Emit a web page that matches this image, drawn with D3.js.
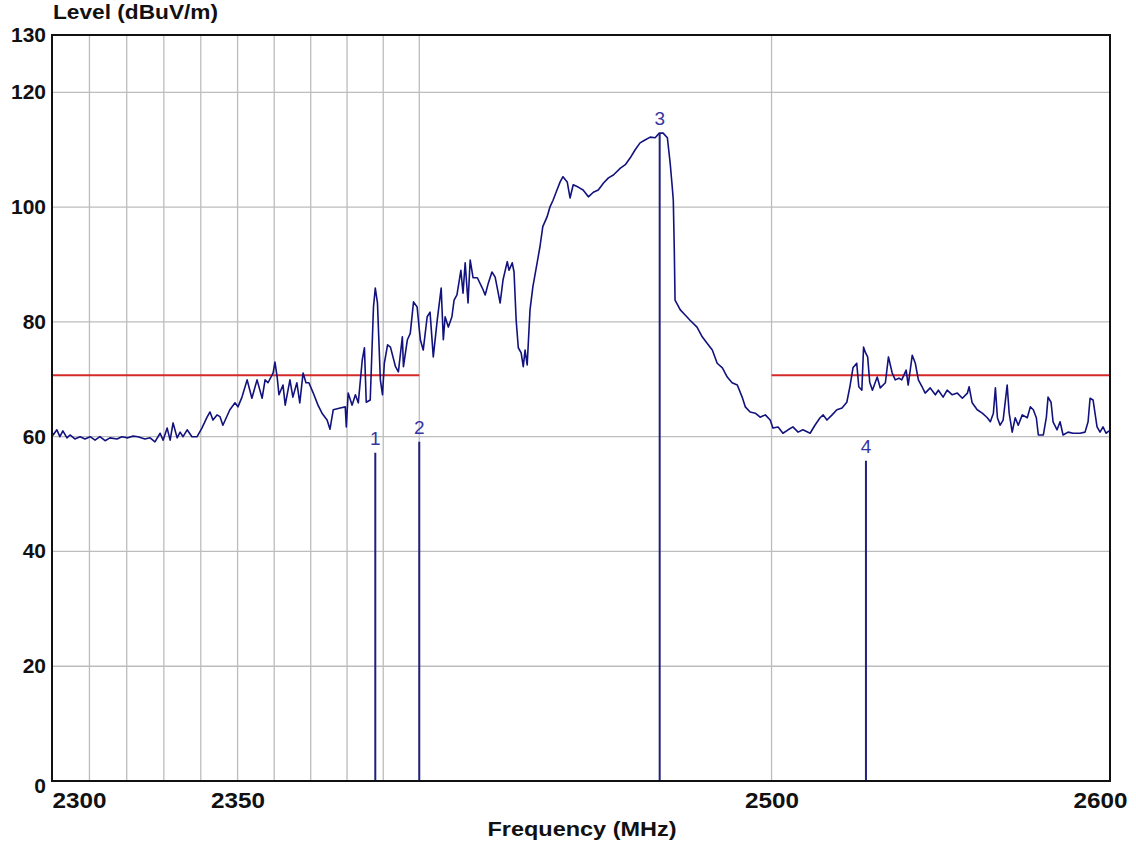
<!DOCTYPE html>
<html>
<head>
<meta charset="utf-8">
<script src="https://cdn.jsdelivr.net/npm/d3@7"></script>
<style>
  body { margin: 0; background: #fff; }
  text { font-family: Arial, "Liberation Sans", sans-serif; }
</style>
</head>
<body>
<div id="chart"></div>
<script>
// 1: DATA
const yTickValues = [0, 20, 40, 60, 80, 100, 120, 130];
const yGridValues = [20, 40, 60, 80, 100, 120];
const xTickValues = [2300, 2350, 2500, 2600];
const xGridValues = [2310, 2320, 2330, 2340, 2350, 2360, 2370, 2380, 2390, 2400, 2500];

const limitLevel = 70.7;
const limitRanges = [[2300, 2400], [2500, 2600]];

const markerNames = ["1", "2", "3", "4"];
const markerMHz = [2387.8, 2400, 2467.8, 2527.5];
const markerLevel = [57.2, 59.1, 112.9, 55.8];

// [frequency MHz, level dBuV/m]
const trace = [
  [2300.0, 60.8], [2300.3, 60.3], [2301.3, 61.2], [2302.1, 60.0], [2302.9, 61.0],
  [2304.0, 59.8], [2304.8, 60.3], [2306.1, 59.6], [2307.5, 60.0], [2308.8, 59.6],
  [2310.2, 60.0], [2311.5, 59.4], [2312.8, 60.0], [2314.2, 59.3], [2315.5, 59.8],
  [2317.4, 59.6], [2318.7, 60.0], [2320.3, 59.8], [2321.7, 60.1], [2323.0, 60.0],
  [2324.9, 59.6], [2326.3, 59.8], [2327.6, 59.1], [2329.0, 60.6], [2329.8, 59.4],
  [2330.9, 61.5], [2331.7, 59.4], [2332.5, 62.4], [2333.6, 59.8], [2334.4, 60.8],
  [2335.2, 60.0], [2336.3, 61.2], [2337.6, 60.0], [2339.0, 60.0], [2340.3, 61.5],
  [2341.7, 63.4], [2342.5, 64.3], [2343.3, 62.9], [2344.4, 63.8], [2345.2, 63.5],
  [2346.0, 62.0], [2347.9, 64.7], [2349.3, 65.9], [2350.1, 65.2], [2351.2, 66.9],
  [2352.6, 69.9], [2353.9, 66.7], [2355.3, 69.9], [2356.7, 66.7], [2357.5, 69.9],
  [2358.3, 69.4], [2359.7, 71.1], [2360.2, 73.0], [2360.8, 70.4], [2361.3, 67.3],
  [2362.4, 69.0], [2363.0, 65.5], [2364.3, 69.9], [2365.1, 66.9], [2366.2, 69.4],
  [2367.0, 65.9], [2367.9, 71.1], [2368.7, 69.4], [2369.5, 69.4], [2370.7, 67.6],
  [2372.0, 65.5], [2373.1, 64.1], [2374.5, 62.9], [2375.3, 61.3], [2376.2, 64.7],
  [2378.1, 65.0], [2379.5, 65.2], [2379.8, 61.7], [2380.3, 67.6], [2381.4, 65.5],
  [2382.3, 67.3], [2383.1, 65.9], [2384.2, 73.4], [2384.8, 75.5], [2385.3, 66.0],
  [2386.4, 66.4], [2387.3, 82.6], [2387.8, 85.9], [2388.4, 83.3], [2389.2, 69.9],
  [2389.8, 67.3], [2390.3, 72.8], [2391.2, 76.0], [2392.0, 75.6], [2393.4, 72.2],
  [2394.2, 71.3], [2395.3, 77.4], [2395.6, 72.2], [2396.7, 76.9], [2397.5, 78.0],
  [2398.4, 83.5], [2399.4, 82.6], [2400.3, 76.9], [2401.1, 75.1], [2402.2, 80.9],
  [2403.0, 81.7], [2403.9, 73.9], [2405.0, 80.3], [2406.1, 85.9], [2406.7, 76.9],
  [2407.2, 80.9], [2408.1, 79.1], [2409.1, 80.9], [2409.7, 83.8], [2410.5, 84.7],
  [2411.6, 89.0], [2412.2, 85.0], [2412.8, 90.3], [2413.6, 83.3], [2414.2, 90.8],
  [2415.0, 87.7], [2416.2, 87.7], [2417.6, 85.9], [2418.4, 84.7], [2419.3, 86.8],
  [2420.3, 88.7], [2421.2, 87.8], [2421.8, 85.9], [2422.6, 83.3], [2423.4, 87.3],
  [2424.6, 90.5], [2425.1, 89.0], [2426.0, 90.3], [2426.5, 88.7], [2427.1, 80.3],
  [2427.7, 75.5], [2428.5, 74.6], [2429.1, 72.2], [2429.6, 75.1], [2430.2, 72.5],
  [2431.0, 82.1], [2431.8, 86.1], [2433.0, 90.3], [2433.8, 93.1], [2434.6, 96.6],
  [2435.8, 98.3], [2436.6, 100.0], [2437.5, 101.2], [2438.6, 103.0], [2439.5, 104.4],
  [2440.3, 105.3], [2441.5, 104.4], [2442.3, 101.6], [2443.2, 103.9], [2444.6, 103.5],
  [2446.0, 103.0], [2447.5, 101.8], [2448.9, 102.6], [2450.3, 103.0], [2451.8, 104.2],
  [2453.2, 105.1], [2454.6, 105.6], [2456.6, 106.8], [2458.0, 107.4], [2459.4, 108.6],
  [2460.8, 110.0], [2462.2, 111.2], [2463.6, 111.7], [2465.1, 112.2], [2466.5, 112.1],
  [2467.7, 112.9], [2468.8, 112.9], [2470.0, 112.1], [2470.8, 107.7], [2471.4, 103.5],
  [2471.7, 101.2], [2472.0, 92.0], [2472.2, 83.8], [2473.7, 82.1], [2475.1, 81.2],
  [2476.5, 80.3], [2478.5, 79.1], [2480.0, 77.4], [2481.4, 76.3], [2482.9, 75.1],
  [2484.3, 72.8], [2485.8, 72.0], [2487.2, 70.4], [2488.6, 69.4], [2490.1, 69.0],
  [2491.5, 66.9], [2492.4, 65.2], [2493.8, 64.3], [2495.3, 64.1], [2496.7, 63.4],
  [2498.2, 63.8], [2499.6, 62.9], [2500.4, 61.5], [2501.9, 61.7], [2503.3, 60.6],
  [2504.8, 61.2], [2506.2, 61.7], [2507.7, 60.8], [2509.1, 61.2], [2511.2, 60.6],
  [2512.6, 62.0], [2514.1, 63.3], [2515.0, 63.8], [2516.1, 62.9], [2517.6, 63.8],
  [2519.0, 64.7], [2520.5, 65.0], [2521.9, 66.0], [2522.8, 68.7], [2523.7, 72.0],
  [2524.8, 72.8], [2525.4, 68.7], [2526.3, 68.1], [2526.8, 75.6], [2527.4, 74.6],
  [2528.0, 73.9], [2528.6, 69.5], [2529.4, 68.1], [2530.8, 70.4], [2531.7, 68.5],
  [2533.2, 69.4], [2534.1, 73.9], [2535.2, 71.1], [2536.1, 69.9], [2537.2, 70.2],
  [2538.0, 69.9], [2539.3, 71.6], [2539.9, 69.0], [2541.1, 74.2], [2542.0, 72.8],
  [2542.9, 69.9], [2544.0, 68.7], [2544.9, 67.6], [2546.4, 68.5], [2547.9, 67.3],
  [2548.8, 68.1], [2550.2, 66.9], [2551.4, 68.1], [2552.9, 67.3], [2554.4, 67.6],
  [2555.9, 66.7], [2557.4, 67.6], [2557.9, 68.7], [2558.8, 65.9], [2560.3, 64.7],
  [2561.8, 64.1], [2563.3, 63.3], [2564.2, 62.6], [2565.1, 64.1], [2565.7, 68.5],
  [2566.3, 63.3], [2567.1, 62.0], [2568.0, 62.9], [2569.2, 69.0], [2569.8, 64.1],
  [2570.7, 60.8], [2571.6, 63.3], [2572.5, 62.0], [2573.7, 63.8], [2575.2, 63.3],
  [2576.1, 65.2], [2577.0, 64.7], [2577.9, 63.3], [2578.5, 60.3], [2580.0, 60.3],
  [2580.9, 63.4], [2581.4, 66.9], [2582.3, 66.0], [2582.9, 62.6], [2584.1, 61.2],
  [2585.0, 62.6], [2585.9, 60.3], [2587.4, 60.8], [2588.9, 60.6], [2591.0, 60.6],
  [2592.5, 60.8], [2593.4, 62.6], [2594.0, 66.7], [2594.9, 66.4], [2596.1, 61.7],
  [2597.0, 60.8], [2597.9, 61.7], [2598.8, 60.6], [2599.7, 61.0]
];

// 2: LAYOUT
const margin = { top: 35, right: 26, bottom: 64, left: 52 },
      width = 1136 - margin.left - margin.right,
      height = 845 - margin.top - margin.bottom;

const svg = d3.select("#chart")
    .append("svg")
    .attr("width", 1136)
    .attr("height", 845);

svg.append("rect")
    .attr("width", 1136)
    .attr("height", 845)
    .attr("fill", "#fff");

const g = svg.append("g")
    .attr("transform", `translate(${margin.left},${margin.top})`);

// 3: SCALES
const x = d3.scaleLog()
    .domain([2300, 2600])
    .range([0, width]);

const y = d3.scaleLinear()
    .domain([0, 130])
    .range([height, 0]);

// 4: GRID
g.selectAll(".hgrid")
    .data(yGridValues)
    .enter()
    .append("line")
    .attr("x1", 0)
    .attr("x2", width)
    .attr("y1", d => y(d))
    .attr("y2", d => y(d))
    .attr("stroke", "#bdbdbd")
    .attr("stroke-width", 1.3);

g.selectAll(".vgrid")
    .data(xGridValues)
    .enter()
    .append("line")
    .attr("x1", d => x(d))
    .attr("x2", d => x(d))
    .attr("y1", 0)
    .attr("y2", height)
    .attr("stroke", "#bdbdbd")
    .attr("stroke-width", 1.3);

// 5: LIMIT LINE
g.selectAll(".limit")
    .data(limitRanges)
    .enter()
    .append("line")
    .attr("x1", d => x(d[0]))
    .attr("x2", d => x(d[1]))
    .attr("y1", y(limitLevel))
    .attr("y2", y(limitLevel))
    .attr("stroke", "#d42a2a")
    .attr("stroke-width", 2);

// 6: TRACE
g.append("clipPath")
    .attr("id", "plot-clip")
    .append("rect")
    .attr("width", width)
    .attr("height", height);

g.append("path")
    .datum(trace)
    .attr("clip-path", "url(#plot-clip)")
    .attr("fill", "none")
    .attr("stroke", "#12127e")
    .attr("stroke-width", 1.6)
    .attr("stroke-linejoin", "round")
    .attr("d", d3.line()
        .x(d => x(d[0]))
        .y(d => y(d[1])));

// 7: MARKERS
const markers = markerNames.map((name, i) => ({ name, mhz: markerMHz[i], level: markerLevel[i] }));

g.selectAll(".marker-line")
    .data(markers)
    .enter()
    .append("line")
    .attr("x1", d => x(d.mhz))
    .attr("x2", d => x(d.mhz))
    .attr("y1", d => y(d.level))
    .attr("y2", height)
    .attr("stroke", "#20207e")
    .attr("stroke-width", 2);

g.selectAll(".marker-label")
    .data(markers)
    .enter()
    .append("text")
    .attr("x", d => x(d.mhz))
    .attr("y", d => y(d.level) - 8)
    .attr("text-anchor", "middle")
    .attr("fill", "#3535a0")
    .style("font-size", "19px")
    .text(d => d.name);

// 8: FRAME AND AXES
g.append("rect")
    .attr("width", width)
    .attr("height", height)
    .attr("fill", "none")
    .attr("stroke", "#111")
    .attr("stroke-width", 2);

const xAxis = g.append("g")
    .attr("transform", `translate(0,${height})`)
    .call(d3.axisBottom(x)
        .tickValues(xTickValues)
        .tickFormat(d3.format("d"))
        .tickSize(0)
        .tickPadding(11));
xAxis.select(".domain").remove();
xAxis.selectAll("text")
    .attr("fill", "#111")
    .style("font-size", "22px")
    .style("font-weight", "bold")
    .attr("textLength", 54)
    .attr("lengthAdjust", "spacingAndGlyphs")
    .attr("text-anchor", d => d === 2300 ? "start" : "middle")
    .attr("dx", d => d === 2600 ? -10 : 0);

const yAxis = g.append("g")
    .call(d3.axisLeft(y)
        .tickValues(yTickValues)
        .tickSize(0)
        .tickPadding(6));
yAxis.select(".domain").remove();
yAxis.selectAll("text")
    .attr("fill", "#111")
    .style("font-size", "21px")
    .style("font-weight", "bold")
    .attr("dy", d => d === 0 ? "0.55em" : "0.3em");

// 9: LABELS
g.append("text")
    .attr("x", 1)
    .attr("y", -16)
    .attr("fill", "#111")
    .attr("textLength", 165)
    .attr("lengthAdjust", "spacingAndGlyphs")
    .style("font-size", "20px")
    .style("font-weight", "bold")
    .text("Level (dBuV/m)");

g.append("text")
    .attr("x", 582 - margin.left)
    .attr("y", height + 55)
    .attr("text-anchor", "middle")
    .attr("fill", "#111")
    .attr("textLength", 189)
    .attr("lengthAdjust", "spacingAndGlyphs")
    .style("font-size", "20px")
    .style("font-weight", "bold")
    .text("Frequency (MHz)");
</script>
</body>
</html>
